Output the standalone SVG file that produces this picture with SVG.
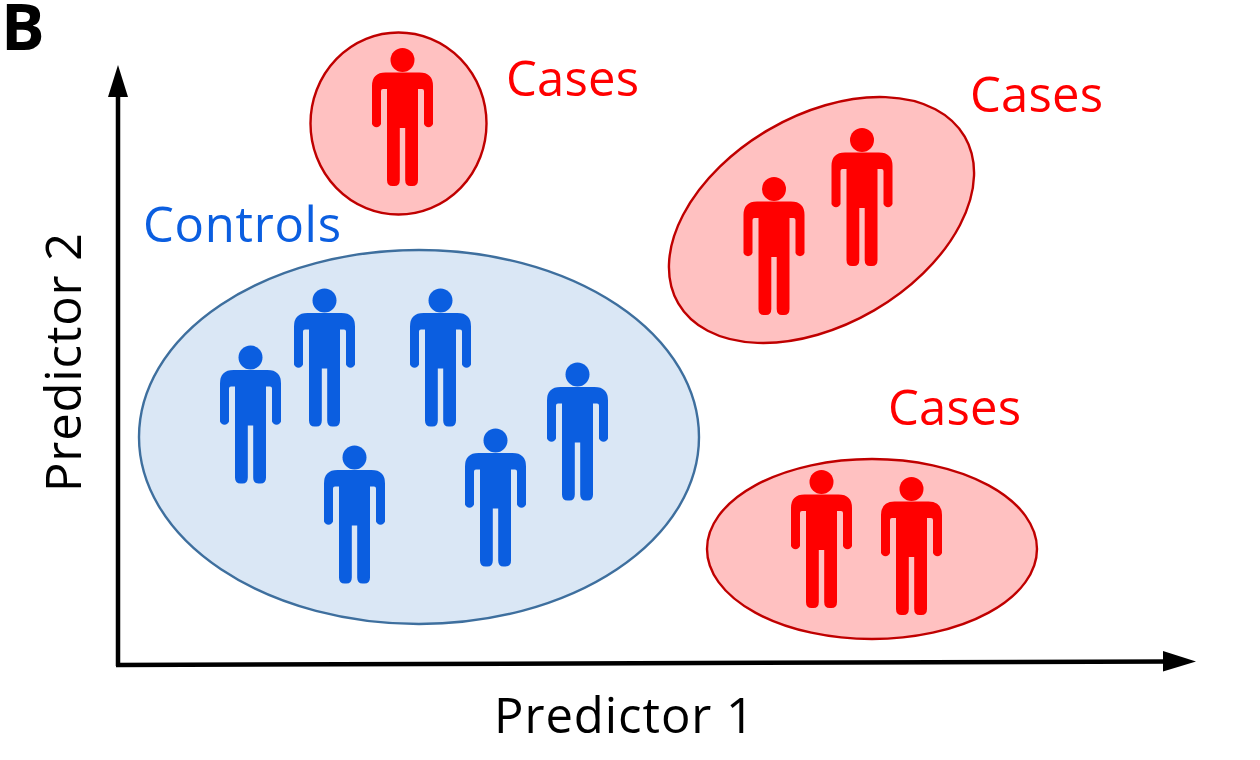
<svg xmlns="http://www.w3.org/2000/svg" width="1260" height="760" viewBox="0 0 1260 760">
<style>
.t{font-family:"Open Sans","Liberation Sans",sans-serif;font-size:49px}
.red{fill:#ff0000}.blue{fill:#0b5ee0}.blk{fill:#000}
.re{fill:#ffc1c1;stroke:#c00000;stroke-width:2.400}
.be{fill:#dae7f5;stroke:#3e6f9e;stroke-width:2.400}
.ax{stroke:#000;stroke-width:4.500;fill:none}
</style>
<defs>
<g id="p"><circle cx="0" cy="0" r="12"/><path d="M-17,12.500H17Q30.500,12.500 30.500,26V64A4.800,4.800 0 0 1 21.500,64V31Q21.500,29 19.500,29H15.500V120Q15.500,126 10,126H8Q2.700,126 2.700,120V68H-2.700V120Q-2.700,126 -8,126H-10Q-15.500,126 -15.500,120V29H-19.500Q-21.500,29 -21.500,31V64A4.800,4.800 0 0 1 -30.500,64V26Q-30.500,12.500 -17,12.500Z"/></g>
</defs>
<rect width="1260" height="760" fill="#fff"/>
<g id="connectors">
<path class="ax" d="M118,666V90"/><path class="ax" d="M116,665L1170,661.500"/>
<path class="blk" d="M118,65L108,97H128Z"/><path class="blk" d="M1196,661.500L1163,651V671.500Z"/>
</g>
<g id="controls"><ellipse class="be" cx="419" cy="437" rx="280" ry="187"/>
<g class="blue"><use href="#p" x="250.500" y="357.500"/><use href="#p" x="324.500" y="300.500"/><use href="#p" x="440.500" y="300.500"/><use href="#p" x="577.500" y="374.500"/><use href="#p" x="354.500" y="457.500"/><use href="#p" x="495.500" y="440.500"/></g>
<text class="t blue" x="143" y="242" textLength="198">Controls</text></g>
<g id="cases1"><ellipse class="re" cx="398.500" cy="123.500" rx="88" ry="91"/>
<use class="red" href="#p" x="402.500" y="60"/>
<text class="t red" x="506" y="96" textLength="133">Cases</text></g>
<g id="cases2"><ellipse class="re" cx="821.500" cy="220" rx="165.700" ry="104.600" transform="rotate(-30.200 821.500 220)"/>
<use class="red" href="#p" x="774" y="189"/><use class="red" href="#p" x="862" y="140"/>
<text class="t red" x="970" y="112" textLength="133">Cases</text></g>
<g id="cases3"><ellipse class="re" cx="872" cy="549" rx="165" ry="90"/>
<use class="red" href="#p" x="821.500" y="482"/><use class="red" href="#p" x="911.500" y="489"/>
<text class="t red" x="888" y="425" textLength="133">Cases</text></g>
<g id="labels">
<text class="t blk" x="494" y="733" textLength="260">Predictor 1</text>
<text class="t blk" transform="translate(81,492) rotate(-90)" textLength="259">Predictor 2</text>
<text x="1" y="50" font-family="Open Sans,Liberation Sans,sans-serif" font-weight="700" font-size="65" class="blk">B</text>
</g>
</svg>
